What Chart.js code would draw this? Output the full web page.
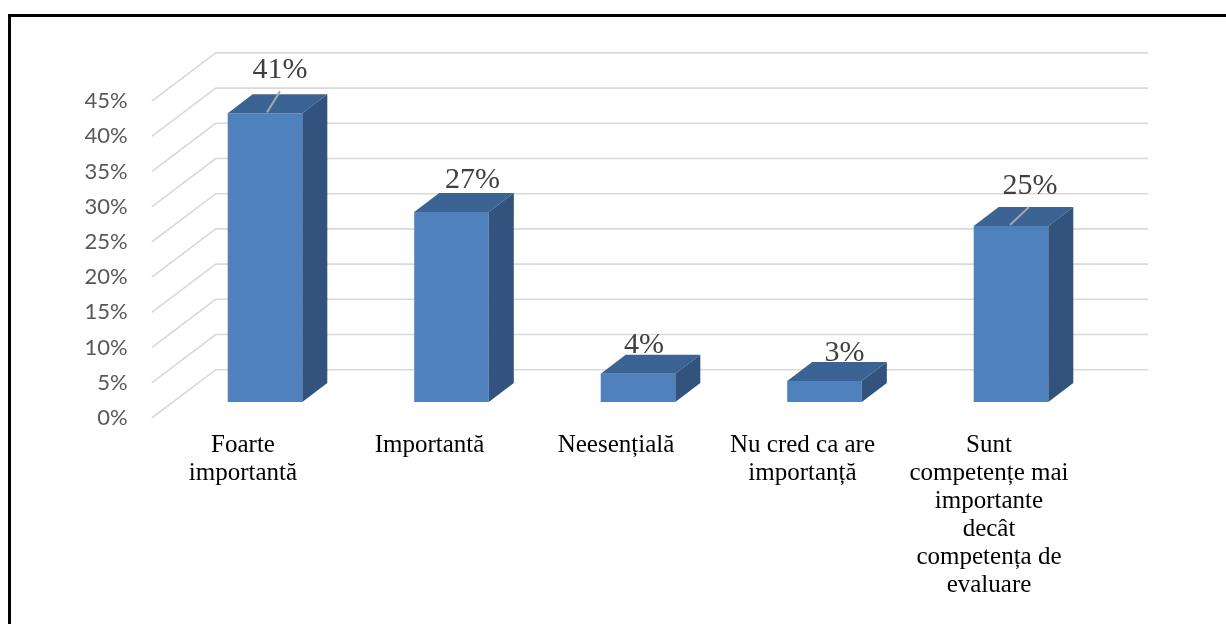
<!DOCTYPE html>
<html>
<head>
<meta charset="utf-8">
<script src="https://cdn.jsdelivr.net/npm/chart.js@4.4.1/dist/chart.umd.min.js"></script>
<style>
  html, body { margin: 0; padding: 0; background: #ffffff; overflow: hidden; }
  #wrap { width: 1226px; height: 624px; position: relative; }
</style>
</head>
<body>
<div id="wrap"><canvas id="c" width="1226" height="624"></canvas></div>
<script>
// ---- data ----
const categories = [
  ["Foarte", "importantă"],
  "Importantă",
  "Neesențială",
  ["Nu cred ca are", "importanță"],
  ["Sunt", "competențe mai", "importante", "decât", "competența de", "evaluare"]
];
const percentages = [41, 27, 4, 3, 25];
const yTickMin = 0;
const yTickMax = 45;
const yTickStep = 5;

// ---- 3D look plugin ----
const depth3d = {
  id: 'depth3d',
  beforeDraw(chart, args, o) {
    const ctx = chart.ctx;
    ctx.save();
    ctx.fillStyle = '#ffffff';
    ctx.fillRect(0, 0, chart.width, chart.height);
    ctx.fillStyle = '#000000';
    ctx.fillRect(8, 14, chart.width - 8, 3);
    ctx.fillRect(8, 14, 3, chart.height - 14);
    ctx.restore();
  },
  beforeDatasetsDraw(chart, args, o) {
    const { ctx, chartArea: { left, right }, scales: { y } } = chart;
    ctx.save();
    ctx.strokeStyle = o.gridColor;
    ctx.lineWidth = o.gridWidth;
    y.ticks.forEach(t => {
      const p = y.getPixelForValue(t.value);
      ctx.beginPath();
      ctx.moveTo(left + o.front.dx, p + o.front.dy);
      ctx.lineTo(left + o.back.dx, p + o.back.dy);
      ctx.lineTo(right + o.back.dx, p + o.back.dy);
      ctx.stroke();
    });
    ctx.restore();
  },
  afterDatasetsDraw(chart, args, o) {
    const ctx = chart.ctx;
    const meta = chart.getDatasetMeta(0);
    const vals = chart.data.datasets[0].data;
    ctx.save();
    meta.data.forEach((bar, i) => {
      const { x, y, base, width } = bar.getProps(['x', 'y', 'base', 'width'], true);
      const l = x - width / 2, r = x + width / 2;
      const dx = o.bar.dx, dy = o.bar.dy;
      // top face
      ctx.fillStyle = o.topColor;
      ctx.beginPath();
      ctx.moveTo(l, y); ctx.lineTo(l + dx, y + dy); ctx.lineTo(r + dx, y + dy); ctx.lineTo(r, y);
      ctx.closePath(); ctx.fill();
      // side face
      ctx.fillStyle = o.sideColor;
      ctx.beginPath();
      ctx.moveTo(r, y); ctx.lineTo(r + dx, y + dy); ctx.lineTo(r + dx, base + dy); ctx.lineTo(r, base);
      ctx.closePath(); ctx.fill();
      // leader line
      const ld = o.leaders[i];
      if (ld) {
        ctx.strokeStyle = o.leaderColor;
        ctx.lineWidth = 2;
        ctx.beginPath();
        ctx.moveTo(x + ld[0], y + ld[1]);
        ctx.lineTo(x + ld[2], y + ld[3]);
        ctx.stroke();
      }
      // value label
      const off = o.labelOffsets[i];
      ctx.fillStyle = o.labelColor;
      ctx.font = o.labelFont;
      ctx.textAlign = 'center';
      ctx.textBaseline = 'middle';
      ctx.fillText(vals[i] + '%', x + off[0], y + off[1]);
    });
    ctx.restore();
  }
};

new Chart(document.getElementById('c'), {
  type: 'bar',
  data: {
    labels: categories,
    datasets: [{
      data: percentages,
      backgroundColor: '#4F81BD',
      borderWidth: 0,
      barPercentage: 0.4,
      categoryPercentage: 1.0
    }]
  },
  options: {
    responsive: false,
    animation: false,
    events: [],
    layout: { padding: { left: 41.75, right: 121.75, top: 85.2, bottom: 0 } },
    plugins: {
      legend: { display: false },
      tooltip: { enabled: false },
      depth3d: {
        gridColor: '#d9d9d9',
        gridWidth: 1.6,
        front: { dx: -20, dy: 16 },
        back: { dx: 44, dy: -32.3 },
        bar: { dx: 25, dy: -19 },
        topColor: '#3B6495',
        sideColor: '#32537D',
        leaderColor: '#a6a6a6',
        labelColor: '#404040',
        labelFont: '30px "Liberation Serif", "Times New Roman", serif',
        labelOffsets: [[15, -43], [21, -32], [6, -29], [20, -28], [19, -40]],
        leaders: [[2, -1, 15, -22], null, null, null, [-1, -1, 18, -19]]
      }
    },
    scales: {
      x: {
        grid: { display: false, drawTicks: false },
        border: { display: false },
        afterFit(s) { s.height = 222; },
        ticks: {
          autoSkip: false,
          maxRotation: 0,
          minRotation: 0,
          padding: 29,
          labelOffset: -22,
          color: '#000000',
          font: { family: '"Liberation Serif", "Times New Roman", serif', size: 25, lineHeight: 1.12 }
        }
      },
      y: {
        min: yTickMin,
        max: yTickMax,
        grid: { display: false, drawTicks: false },
        border: { display: false },
        afterFit(s) { s.width = 130; },
        ticks: {
          stepSize: yTickStep,
          padding: 44,
          labelOffset: 16,
          color: '#595959',
          font: { family: 'Lato, "Open Sans", sans-serif', size: 22 },
          callback: (value) => Number(value).toFixed(0) + '%'
        }
      }
    }
  },
  plugins: [depth3d]
});
</script>
</body>
</html>
